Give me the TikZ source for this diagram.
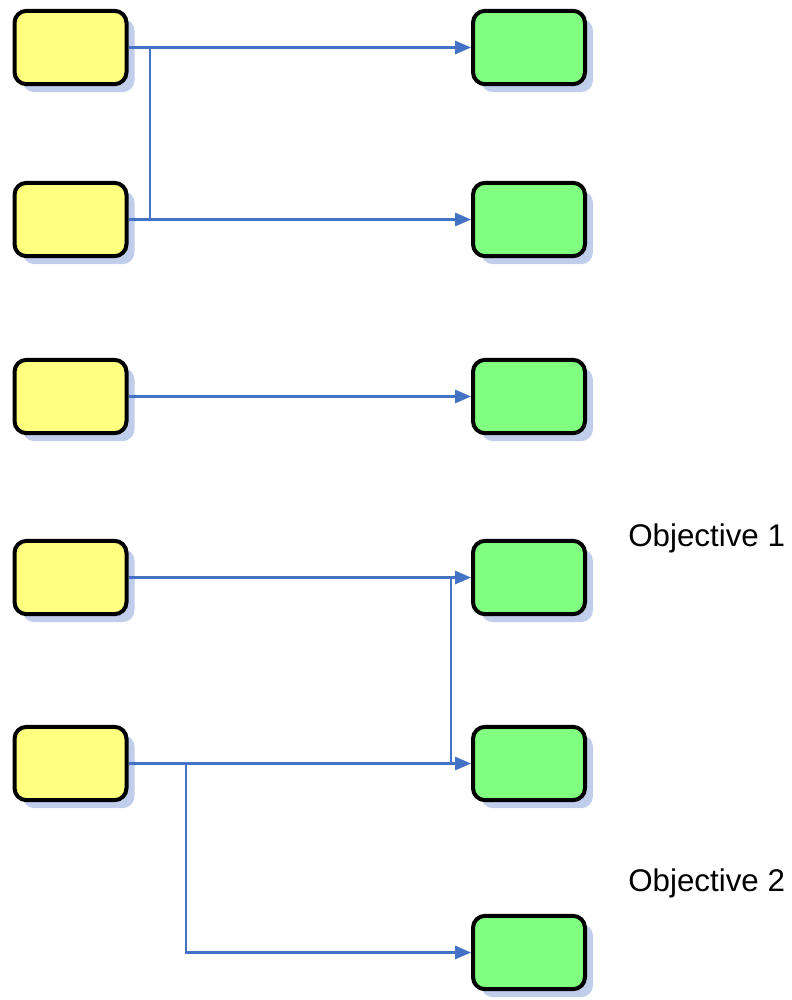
\documentclass[tikz,border=0pt]{standalone}
\usepackage{fontspec}
\setmainfont{Liberation Sans}
\usetikzlibrary{arrows.meta,shadows}
\definecolor{linkblue}{RGB}{68,114,196}
\definecolor{shadowblue}{RGB}{192,205,235}
\definecolor{srcyellow}{RGB}{255,255,128}
\definecolor{goalgreen}{RGB}{128,255,128}
\tikzset{
  box/.style={draw=black, line width=3pt, rounded corners=9pt,
    minimum width=84pt, minimum height=55pt, inner sep=0pt,
    drop shadow={shadow xshift=6pt, shadow yshift=-6pt, fill=shadowblue, opacity=1}},
  srcbox/.style={box, fill=srcyellow},
  goalbox/.style={box, fill=goalgreen},
  link/.style={draw=linkblue, line width=1.6pt},
  arrowlink/.style={link, -{Triangle[length=12pt,width=10pt]}},
  objlabel/.style={anchor=west, inner sep=0pt, font=\fontsize{23.5pt}{27pt}\selectfont}
}
\begin{document}
\begin{tikzpicture}[x=0.75pt, y=-0.75pt]
    \useasboundingbox (0,0) rectangle (792,1000);
    % left column
    \node[srcbox] (y1) at (70.5,47.5) {};
    \node[srcbox] (y2) at (70.5,219.5) {};
    \node[srcbox] (y3) at (70.5,396.5) {};
    \node[srcbox] (y4) at (70.5,577.5) {};
    \node[srcbox] (y5) at (70.5,763.5) {};
    % right column
    \node[goalbox] (g1) at (529,47.5) {};
    \node[goalbox] (g2) at (529,219.5) {};
    \node[goalbox] (g3) at (529,396.5) {};
    \node[goalbox] (g4) at (529,577.5) {};
    \node[goalbox] (g5) at (529,763.5) {};
    \node[goalbox] (g6) at (529,952.5) {};
    % labels
    \node[objlabel] (obj1) at (628,538) {Objective 1};
    \node[objlabel] (obj2) at (628,883) {Objective 2};
    % junctions
    \coordinate (j1) at (150,47.5);
    \coordinate (j2) at (150,219.5);
    \coordinate (j4) at (451,577.5);
    \coordinate (j5) at (451,763.5);
    \coordinate (j6) at (186,763.5);
    % connectors
    \draw[arrowlink] (y1.east) -- (g1.west);
    \draw[arrowlink] (y2.east) -- (g2.west);
    \draw[link] (j1) -- (j2);
    \draw[arrowlink] (y3.east) -- (g3.west);
    \draw[arrowlink] (y4.east) -- (g4.west);
    \draw[arrowlink] (y5.east) -- (g5.west);
    \draw[link] (j4) -- (j5);
    \draw[arrowlink] (j6) |- (g6.west);
\end{tikzpicture}
\end{document}
